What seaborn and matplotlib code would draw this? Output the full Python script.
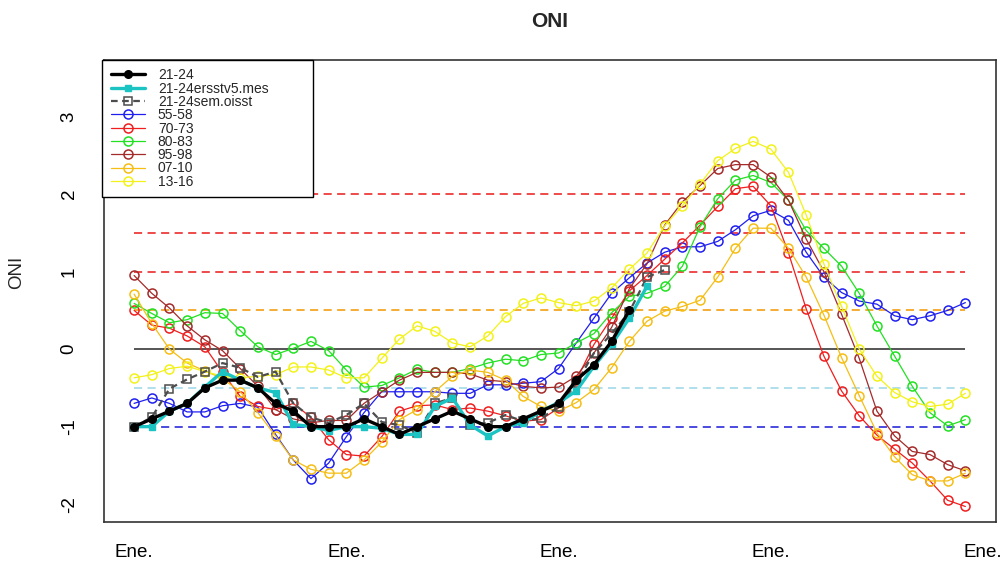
import pandas as pd
import matplotlib
matplotlib.use("Agg")
import matplotlib.pyplot as plt
import seaborn as sns

# ONI values per month, 4 years per series (0 = Ene. of the first year)
oni_21_24 = [-1.0, -0.9, -0.8, -0.7, -0.5, -0.4, -0.4, -0.5, -0.7, -0.8, -1.0, -1.0,
             -1.0, -0.9, -1.0, -1.1, -1.0, -0.9, -0.8, -0.9, -1.0, -1.0, -0.9, -0.8,
             -0.7, -0.4, -0.2, 0.1, 0.5]
oni_21_24_ersst = [-1.0, -1.0, -0.8, -0.7, -0.49, -0.29, -0.40, -0.50, -0.56, -0.97, -1.0, -1.05,
                   -1.0, -1.0, -1.02, -1.1, -1.1, -0.74, -0.63, -0.98, -1.12, -1.0, -0.95, -0.8,
                   -0.69, -0.54, -0.22, 0.06, 0.4, 0.81]
oni_21_24_oisst = [-1.0, -0.88, -0.51, -0.39, -0.29, -0.18, -0.24, -0.36, -0.29, -0.70, -0.88, -0.95,
                   -0.85, -0.70, -0.94, -0.98, -1.08, -0.70, -0.63, -0.98, -0.95, -0.85, -0.93, -0.89,
                   -0.75, -0.44, -0.05, 0.20, 0.48, 0.93, 1.02]
oni_55_58 = [-0.70, -0.63, -0.70, -0.81, -0.81, -0.73, -0.70, -0.75, -1.10, -1.43, -1.67, -1.47,
             -1.13, -0.82, -0.55, -0.55, -0.55, -0.55, -0.57, -0.57, -0.46, -0.46, -0.44, -0.42,
             -0.25, 0.08, 0.40, 0.72, 0.92, 1.11, 1.25, 1.32, 1.32, 1.39, 1.54, 1.72,
             1.79, 1.66, 1.25, 0.93, 0.73, 0.62, 0.58, 0.43, 0.38, 0.43, 0.50, 0.60]
oni_70_73 = [0.50, 0.31, 0.27, 0.17, 0.03, -0.30, -0.61, -0.74, -0.78, -0.70, -0.88, -1.17,
             -1.36, -1.38, -1.13, -0.80, -0.73, -0.72, -0.78, -0.76, -0.80, -0.86, -0.93, -0.91,
             -0.76, -0.40, 0.06, 0.40, 0.75, 0.95, 1.16, 1.37, 1.60, 1.84, 2.07, 2.10,
             1.85, 1.24, 0.52, -0.09, -0.54, -0.86, -1.11, -1.29, -1.47, -1.70, -1.95, -2.03]
oni_80_83 = [0.59, 0.46, 0.34, 0.38, 0.47, 0.46, 0.24, 0.03, -0.07, 0.01, 0.10, -0.02,
             -0.27, -0.49, -0.47, -0.37, -0.26, -0.30, -0.30, -0.25, -0.18, -0.13, -0.15, -0.07,
             -0.05, 0.08, 0.20, 0.47, 0.68, 0.72, 0.81, 1.07, 1.58, 1.94, 2.18, 2.24,
             2.15, 1.92, 1.53, 1.30, 1.07, 0.72, 0.30, -0.09, -0.48, -0.82, -0.99, -0.91]
oni_95_98 = [0.95, 0.72, 0.53, 0.30, 0.12, -0.02, -0.25, -0.48, -0.78, -0.90, -0.95, -0.92,
             -0.92, -0.70, -0.55, -0.40, -0.30, -0.30, -0.30, -0.32, -0.40, -0.42, -0.48, -0.50,
             -0.49, -0.35, -0.05, 0.28, 0.78, 1.10, 1.60, 1.90, 2.11, 2.33, 2.38, 2.38,
             2.22, 1.92, 1.42, 1.00, 0.45, -0.12, -0.80, -1.12, -1.32, -1.36, -1.49, -1.57]
oni_07_10 = [0.71, 0.33, 0.0, -0.18, -0.28, -0.38, -0.55, -0.82, -1.12, -1.43, -1.55, -1.60,
             -1.60, -1.43, -1.20, -0.91, -0.78, -0.55, -0.35, -0.27, -0.30, -0.40, -0.61, -0.74,
             -0.80, -0.69, -0.52, -0.24, 0.10, 0.36, 0.49, 0.55, 0.63, 0.93, 1.30, 1.56,
             1.56, 1.30, 0.93, 0.44, -0.11, -0.60, -1.08, -1.39, -1.62, -1.70, -1.70, -1.60]
oni_13_16 = [-0.37, -0.33, -0.25, -0.22, -0.29, -0.35, -0.37, -0.35, -0.33, -0.23, -0.23, -0.27,
             -0.37, -0.37, -0.12, 0.13, 0.30, 0.23, 0.08, 0.03, 0.17, 0.42, 0.59, 0.66,
             0.60, 0.56, 0.62, 0.79, 1.03, 1.24, 1.59, 1.85, 2.13, 2.43, 2.59, 2.68,
             2.58, 2.28, 1.73, 1.10, 0.55, 0.00, -0.35, -0.56, -0.68, -0.74, -0.71, -0.57]

series_names = ["21-24", "21-24ersstv5.mes", "21-24sem.oisst", "55-58", "70-73",
                "80-83", "95-98", "07-10", "13-16"]
series_values = [oni_21_24, oni_21_24_ersst, oni_21_24_oisst, oni_55_58, oni_70_73,
                 oni_80_83, oni_95_98, oni_07_10, oni_13_16]

tick_months = [0, 12, 24, 36, 48]
tick_labels = ["Ene.", "Ene.", "Ene.", "Ene.", "Ene."]

# reference levels drawn across the 48 months
thresholds = [2.0, 1.5, 1.0, 0.5, 0.0, -0.5, -1.0]
n_months = 48

# long table for seaborn
rows = []
for name, vals in zip(series_names, series_values):
  for m, v in enumerate(vals):
    rows.append({"serie": name, "mes": m, "oni": v})
df = pd.DataFrame(rows)

# style per series: color, marker, line width, marker size, open marker, dashed
styles = {
  "21-24":            dict(color="black",   marker="o", lw=2.4, ms=5.5, open_=False, dash=None, z=6),
  "21-24ersstv5.mes": dict(color="#1BC3C3", marker="s", lw=2.4, ms=5.0, open_=False, dash=None, z=5),
  "21-24sem.oisst":   dict(color="#4D4D4D", marker="s", lw=1.6, ms=5.5, open_=True,  dash=(3, 2), z=4),
  "55-58":            dict(color="#1F1FF0", marker="o", lw=0.9, ms=6.5, open_=True,  dash=None, z=3),
  "70-73":            dict(color="#F01E1E", marker="o", lw=0.9, ms=6.5, open_=True,  dash=None, z=3),
  "80-83":            dict(color="#22E022", marker="o", lw=0.9, ms=6.5, open_=True,  dash=None, z=3),
  "95-98":            dict(color="#A52A2A", marker="o", lw=0.9, ms=6.5, open_=True,  dash=None, z=3),
  "07-10":            dict(color="#F5BE14", marker="o", lw=0.9, ms=6.5, open_=True,  dash=None, z=3),
  "13-16":            dict(color="#F2F21A", marker="o", lw=0.9, ms=6.5, open_=True,  dash=None, z=3),
}
threshold_styles = [("#EE3B3B", "--"), ("#EE3B3B", "--"), ("#EE3B3B", "--"),
                    ("#F5A623", "--"), ("#555555", "-"), ("#A9DCEA", "--"), ("#3B3BDD", "--")]

sns.set_theme(style="white")
plt.rcParams["font.family"] = ["Liberation Sans", "DejaVu Sans"]
plt.rcParams["axes.unicode_minus"] = False

fig = plt.figure(figsize=(10.04, 5.69), dpi=100)
ax = fig.add_axes([0.1036, 0.0826, 0.8884, 0.812])

# reference lines first so the series sit on top
for level, (col, ls) in zip(thresholds, threshold_styles):
  if ls == "-":
    ax.hlines(level, 0, n_months - 1, colors=col, linestyles="-", lw=1.4, zorder=1)
  else:
    ax.hlines(level, 0, n_months - 1, colors=col, linestyles=(0, (4.5, 3)), lw=1.3, zorder=1)

# historical series first, then the current ones
draw_order = series_names[3:] + ["21-24sem.oisst", "21-24ersstv5.mes", "21-24"]
for name in draw_order:
  st = styles[name]
  sub = df[df["serie"] == name]
  kws = dict(color=st["color"], marker=st["marker"], lw=st["lw"], ms=st["ms"],
             markeredgecolor=st["color"], markeredgewidth=1.1 if st["open_"] else 1.0,
             markerfacecolor="none" if st["open_"] else st["color"], zorder=st["z"])
  if st["dash"] is not None:
    kws["dashes"] = st["dash"]
  sns.lineplot(data=sub, x="mes", y="oni", ax=ax, label=name, errorbar=None, **kws)

ax.set_xlim(-1.7, 48.73)
ax.set_ylim(-2.23, 3.73)
ax.set_xticks(tick_months)
ax.set_xticklabels(tick_labels)
ax.set_yticks([-2, -1, 0, 1, 2, 3])
ax.set_yticklabels(["-2", "-1", "0", "1", "2", "3"], rotation=90, va="center")
ax.tick_params(axis="both", direction="out", length=7, width=1, colors="black",
               labelsize=13.5)
ax.tick_params(axis="x", pad=9)
ax.tick_params(axis="y", pad=12)
for sp in ax.spines.values():
  sp.set_color("#333333")
  sp.set_linewidth(1.2)

ax.set_xlabel("")
ax.set_ylabel("ONI", fontsize=13.5)
ax.yaxis.set_label_coords(-0.088, 0.54)
ax.set_title("ONI", fontsize=15, fontweight="bold", pad=24)

# legend in R order, box at the top-left corner
handles, labels = ax.get_legend_handles_labels()
lookup = dict(zip(labels, handles))
leg = ax.legend([lookup[n] for n in series_names], series_names,
                loc="upper left", bbox_to_anchor=(-0.002, 1.0, 0.2365, 0.0),
                mode="expand", borderaxespad=0, fontsize=10, labelspacing=-0.05,
                handlelength=2.5, handletextpad=0.9, borderpad=0.6,
                frameon=True, fancybox=False, framealpha=1)
leg.get_frame().set_edgecolor("black")
leg.get_frame().set_linewidth(1.0)

fig.savefig("out.png", dpi=100)
plt.close(fig)
